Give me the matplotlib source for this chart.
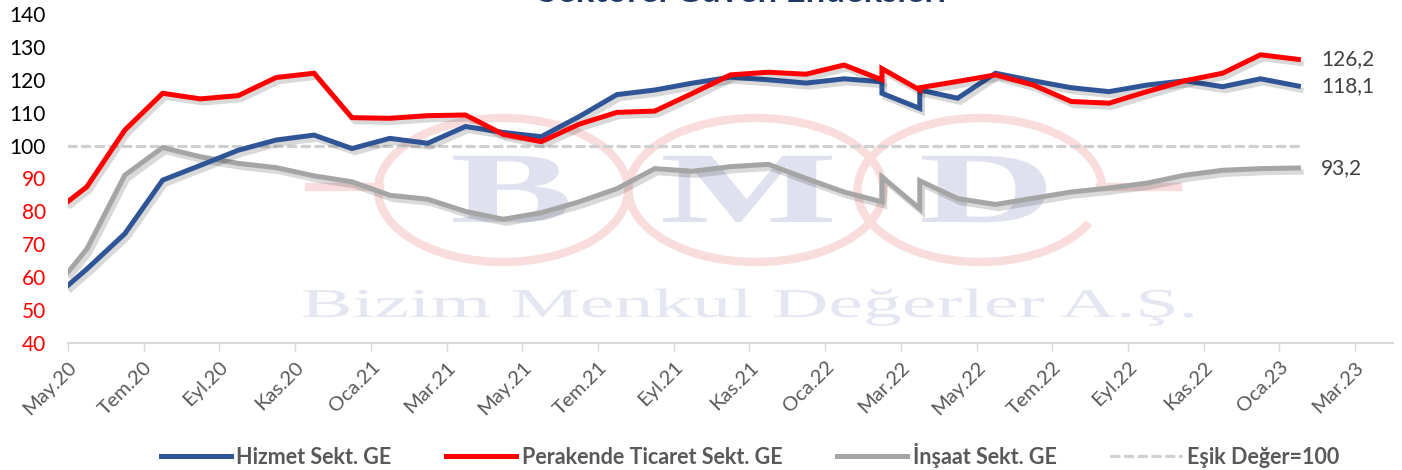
import matplotlib as mpl
mpl.use("Agg")
import matplotlib.pyplot as plt
import matplotlib.patheffects as pe
from matplotlib.patches import Ellipse, Arc, PathPatch
from matplotlib.lines import Line2D
from matplotlib.textpath import TextPath
from matplotlib.font_manager import FontProperties
from matplotlib.transforms import Affine2D

# months since May 2020 (two points repeated around Mar.22 as in the source sheet)
months = [0, 0.5, 1.5, 2.5, 3.5, 4.5, 5.5, 6.5, 7.5, 8.5, 9.5, 10.5, 11.5, 12.5,
          13.5, 14.5, 15.5, 16.5, 17.5, 18.5, 19.5, 20.5, 21.5, 21.5, 22.5, 22.5,
          23.5, 24.5, 25.5, 26.5, 27.5, 28.5, 29.5, 30.5, 31.5, 32.5]

hizmet = [57.5, 62.5, 73.2, 89.5, 94.0, 98.6, 101.7, 103.2, 99.1, 102.2, 100.7, 105.8,
          104.0, 102.7, 108.8, 115.5, 116.9, 119.0, 120.8, 120.0, 119.0, 120.3, 119.4,
          115.9, 111.3, 116.9, 114.4, 122.0, 119.7, 117.6, 116.4, 118.4, 119.7, 117.9,
          120.3, 118.1]

perakende = [83.0, 87.5, 104.7, 115.9, 114.2, 115.2, 120.7, 122.0, 108.5, 108.3, 109.1,
             109.3, 103.4, 101.2, 106.5, 110.1, 110.5, 115.9, 121.5, 122.3, 121.7, 124.5,
             120.0, 123.4, 116.9, 117.6, 119.5, 121.5, 118.4, 113.4, 112.9, 116.4, 119.7,
             122.0, 127.6, 126.2]

insaat = [61.5, 68.6, 91.0, 99.4, 96.6, 94.6, 93.3, 90.8, 89.0, 84.9, 83.7, 80.0, 77.6,
          79.6, 82.9, 86.9, 93.0, 92.2, 93.6, 94.3, 90.0, 85.9, 82.9, 90.5, 80.8, 89.3,
          83.9, 82.1, 84.0, 85.9, 87.1, 88.6, 91.0, 92.5, 93.0, 93.2]

esik = [100] * len(months)

tick_pos = list(range(0, 35, 2))
tick_labels = ["May.20", "Tem.20", "Eyl.20", "Kas.20", "Oca.21", "Mar.21", "May.21",
               "Tem.21", "Eyl.21", "Kas.21", "Oca.22", "Mar.22", "May.22", "Tem.22",
               "Eyl.22", "Kas.22", "Oca.23", "Mar.23"]
y_ticks = [40, 50, 60, 70, 80, 90, 100, 110, 120, 130, 140]

font = ["Lato", "DejaVu Sans"]
W, H = 1402, 470

fig = plt.figure(figsize=(W / 100, H / 100), dpi=100)
ax = fig.add_axes([68 / W, 1 - 343 / H, 1325 / W, 329 / H])


def px(x, y):
    return x / W, 1 - y / H


# watermark (stretched logo)
ring = "#f9dcdc"
for cx, wd in ((503, 250), (756, 255)):
    ax.add_artist(Ellipse(px(cx, 190), wd / W, 144 / H, transform=fig.transFigure,
                          fill=False, ec=ring, lw=6, zorder=0.2, clip_on=False))
ax.add_artist(Arc(px(980, 190), 245 / W, 144 / H, transform=fig.transFigure,
                  theta1=0, theta2=318, ec=ring, lw=6, zorder=0.2, clip_on=False))
ax.add_artist(Line2D([309 / W, 380 / W], [1 - 187 / H] * 2, transform=fig.transFigure,
                     color=ring, lw=6, zorder=0.2, clip_on=False))
ax.add_artist(Line2D([1100 / W, 1178 / W], [1 - 187 / H] * 2, transform=fig.transFigure,
                     color=ring, lw=6, zorder=0.2, clip_on=False))

serif_b = FontProperties(family="Liberation Serif", weight="bold")
serif = FontProperties(family="Liberation Serif")
for letter, left, width in (("B", 453, 115), ("M", 663, 169), ("D", 922, 124)):
    tp = TextPath((0, 0), letter, size=101, prop=serif_b)
    ext = tp.get_extents()
    sx = width / ext.width
    tr = Affine2D().translate(-ext.x0, 0).scale(sx, 1).translate(left, H - 222)
    ax.add_artist(PathPatch(tp, transform=tr, fc="#dfe1ef", ec="none", zorder=0.3,
                            clip_on=False))
tp = TextPath((0, 0), "Bizim Menkul Değerler A.Ş.", size=41, prop=serif)
ext = tp.get_extents()
tr = Affine2D().translate(-ext.x0, 0).scale(890 / ext.width, 1).translate(303, H - 317)
ax.add_artist(PathPatch(tp, transform=tr, fc="#e4e6f1", ec="none", zorder=0.3,
                        clip_on=False))

shadow = [pe.SimpleLineShadow(offset=(2, -3), shadow_color="black", alpha=0.15),
          pe.Normal()]
ax.plot(months, esik, color="#d0d0d0", lw=2.3, ls=(0, (2.4, 1.9)), zorder=2,
        dash_capstyle="round", label="Eşik Değer=100")
ax.plot(months, insaat, color="#a5a5a5", lw=3.6, zorder=3, path_effects=shadow,
        solid_joinstyle="miter", label="İnşaat Sekt. GE")
ax.plot(months, hizmet, color="#2f5597", lw=3.6, zorder=4, path_effects=shadow,
        solid_joinstyle="miter", label="Hizmet Sekt. GE")
ax.plot(months, perakende, color="#ff0000", lw=3.6, zorder=5, path_effects=shadow,
        solid_joinstyle="miter", label="Perakende Ticaret Sekt. GE")

for val in (perakende[-1], hizmet[-1], insaat[-1]):
    ax.text(33.1, val, f"{val:.1f}".replace(".", ","), ha="left", va="center",
            fontsize=15, family=font, color="#404040", clip_on=False)

ax.set_xlim(0, 35)
ax.set_ylim(40, 140)
ax.set_xticks(tick_pos)
ax.set_xticklabels(tick_labels, rotation=45, ha="right", va="top",
                   rotation_mode="anchor", fontsize=14.5, family=font, color="#595959")
ax.set_yticks(y_ticks)
ax.set_yticklabels([str(v) for v in y_ticks], fontsize=15, family=font)
for lab, v in zip(ax.get_yticklabels(), y_ticks):
    lab.set_color("black" if v >= 100 else "#ff0000")
ax.tick_params(axis="y", length=0, pad=16)
ax.tick_params(axis="x", length=6, width=1, color="#d9d9d9", pad=5)
for s in ("top", "right", "left"):
    ax.spines[s].set_visible(False)
ax.spines["bottom"].set_color("#d9d9d9")
ax.spines["bottom"].set_linewidth(1.5)
ax.patch.set_alpha(0)

h, l = ax.get_legend_handles_labels()
order = [2, 3, 1, 0]
leg = fig.legend([h[i] for i in order], [l[i] for i in order], loc="center",
                 bbox_to_anchor=(750 / W, 1 - 455 / H), ncol=4, frameon=False,
                 handlelength=3.25, columnspacing=2.55, handletextpad=0.25,
                 prop={"family": font, "weight": "bold", "size": 15.5})
for t in leg.get_texts():
    t.set_color("#595959")
for lh in leg.legend_handles:
    lh.set_path_effects([])

fig.text(742 / W, 1 - 2.5 / H, "Sektörel Güven Endeksleri", ha="center",
         va="baseline", fontsize=25, weight="bold", family=font, color="#1f3864")

fig.savefig("out.png", dpi=100)
